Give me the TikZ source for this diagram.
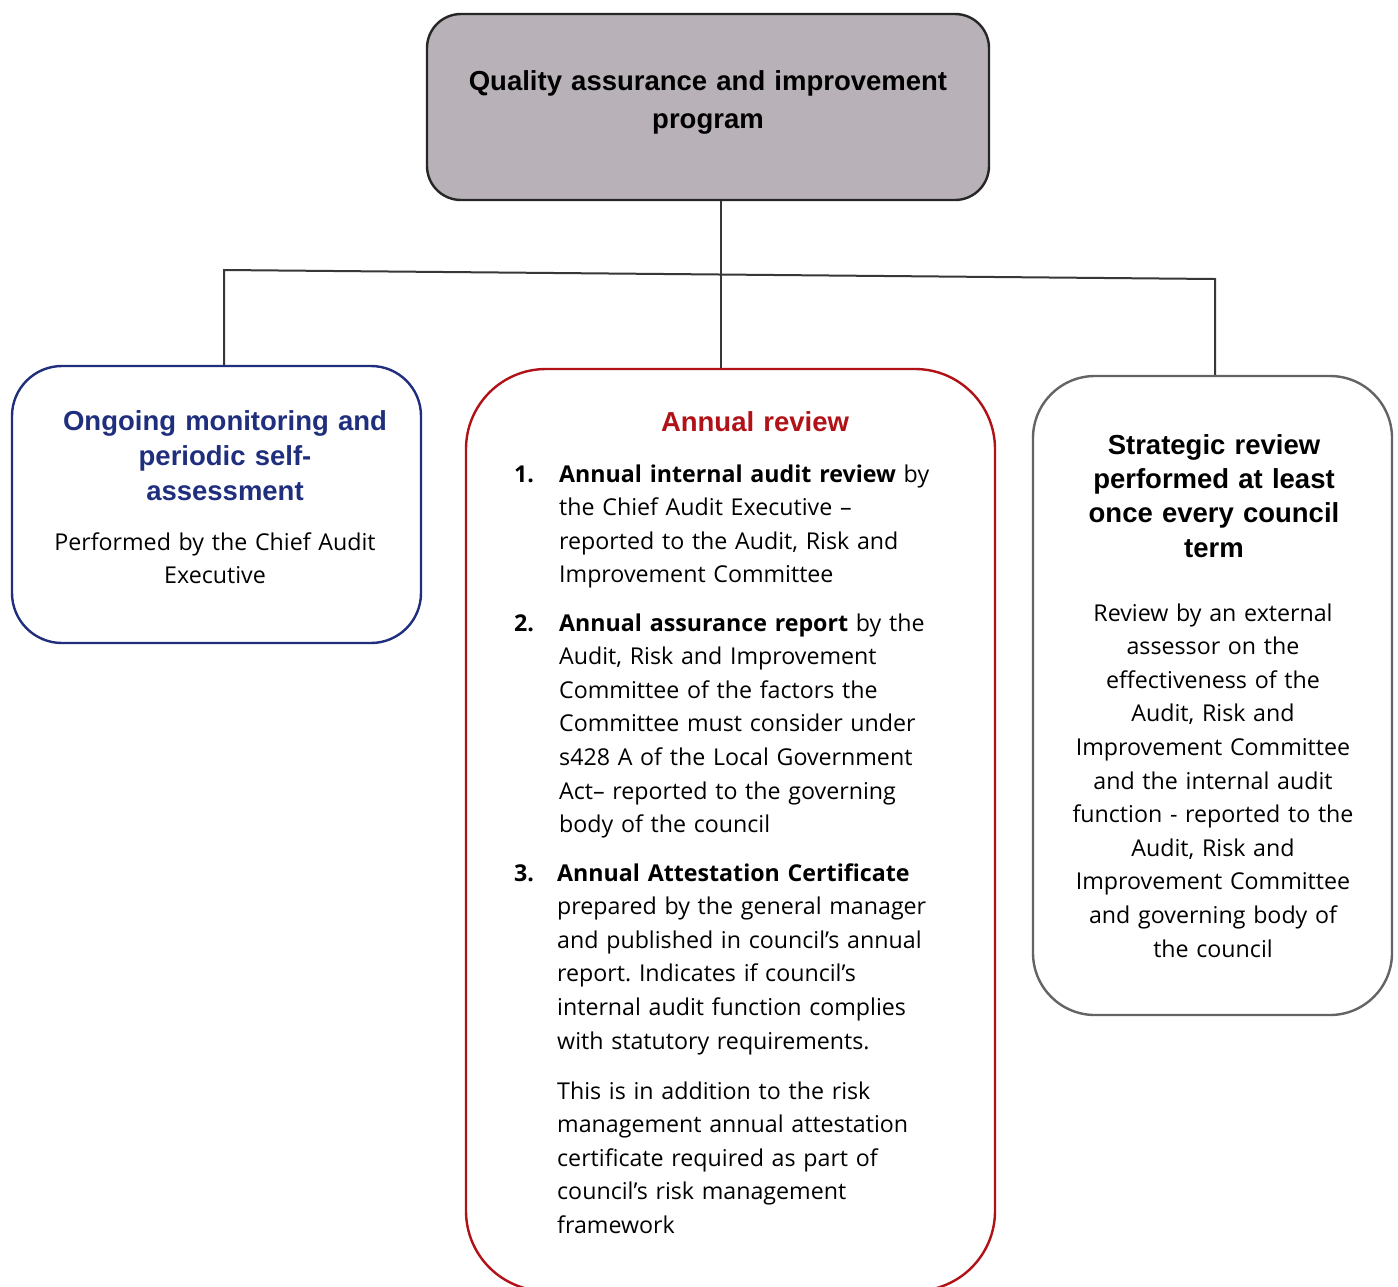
\documentclass[tikz,border=0pt]{standalone}
\usepackage{fontspec}
\setmainfont{Open Sans}
\newfontfamily\headfont{Liberation Sans}
\definecolor{navy}{RGB}{31,47,125}
\definecolor{darkred}{RGB}{176,18,24}
\definecolor{boxgray}{RGB}{184,178,184}
\definecolor{edgegray}{RGB}{100,100,100}
\definecolor{linegray}{RGB}{55,55,55}
\frenchspacing

\begin{document}
\begin{tikzpicture}[x=1pt,y=-1pt,
  panel/.style={draw, line width=2.4pt, inner sep=0pt},
  conn/.style={draw=linegray, line width=2pt},
  headtxt/.style={font=\headfont\bfseries\fontsize{27.5}{35}\selectfont, inner sep=0pt, align=center, text width=420pt, anchor=base},
  bodytxt/.style={font=\fontsize{23.2}{33.6}\selectfont, inner sep=0pt},
  centertxt/.style={bodytxt, align=center, text width=420pt, anchor=base},
  itemtxt/.style={bodytxt, align=left, text width=470pt, anchor=base west},
  itemnum/.style={bodytxt, font=\fontsize{23.2}{33.6}\selectfont\bfseries, anchor=base west}]

\clip (0,0) rectangle (1398,1286);
\fill[white] (0,0) rectangle (1398,1286);

% boxes
\node[panel, draw=black!85, fill=boxgray, rounded corners=34pt,
      minimum width=562pt, minimum height=186pt] (top) at (708,107) {};
\node[panel, draw=navy, rounded corners=50pt,
      minimum width=409pt, minimum height=277pt] (left) at (216.5,504.5) {};
\node[panel, draw=darkred, rounded corners=80pt,
      minimum width=529pt, minimum height=922pt] (mid) at (730.5,830) {};
\node[panel, draw=edgegray, rounded corners=62pt,
      minimum width=359pt, minimum height=639pt] (right) at (1212.5,695.5) {};

% connectors
\coordinate (jl) at (224,270);
\coordinate (jc) at (721,274);
\coordinate (jr) at (1215,279);
\draw[conn] (top.south -| jc) -- (jc);
\draw[conn] (jl |- left.north) -- (jl) -- (jr) -- (jr |- right.north);
\draw[conn] (jc) -- (jc |- mid.north);

% top box title
\node[headtxt, text width=600pt, font=\headfont\bfseries\fontsize{27.5}{38}\selectfont] (toptitle) at (708,90)
  {Quality assurance and improvement\\program};

% left box
\node[headtxt, text=navy] (lefthead) at (225,430)
  {Ongoing monitoring and\\periodic self-\\assessment};
\node[centertxt] (leftbody) at (215,550)
  {Performed by the Chief Audit\\Executive};

% middle box
\node[headtxt, text=darkred] (midhead) at (755,431) {Annual review};

\node[itemnum] (n1) at (514,482) {1.};
\node[itemtxt] (i1) at (559,482)
  {\textbf{Annual internal audit review} by\\the Chief Audit Executive –\\reported to the Audit, Risk and\\Improvement Committee};

\node[itemnum] (n2) at (514,631) {2.};
\node[itemtxt] (i2) at (559,631)
  {\textbf{Annual assurance report} by the\\Audit, Risk and Improvement\\Committee of the factors the\\Committee must consider under\\s428 A of the Local Government\\Act– reported to the governing\\body of the council};

\node[itemnum] (n3) at (514,881) {3.};
\node[itemtxt] (i3) at (557,881)
  {\textbf{Annual Attestation Certificate}\\prepared by the general manager\\and published in council’s annual\\report. Indicates if council’s\\internal audit function complies\\with statutory requirements.};

\node[itemtxt] (note) at (557,1099)
  {This is in addition to the risk\\management annual attestation\\certificate required as part of\\council’s risk management\\framework};

% right box
\node[headtxt, font=\headfont\bfseries\fontsize{27.5}{34.4}\selectfont] (righthead) at (1214,454)
  {Strategic review\\performed at least\\once every council\\term};
\node[centertxt] (rightbody) at (1213,621)
  {Review by an external\\assessor on the\\effectiveness of the\\Audit, Risk and\\Improvement Committee\\and the internal audit\\function - reported to the\\Audit, Risk and\\Improvement Committee\\and governing body of\\the council};

\end{tikzpicture}
\end{document}
